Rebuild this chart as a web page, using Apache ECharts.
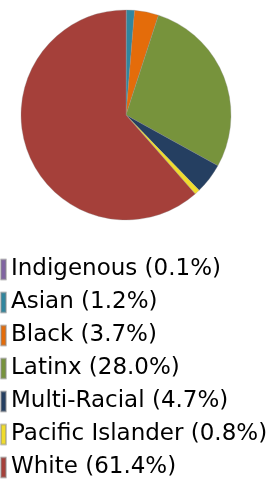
<!DOCTYPE html>
<html>
<head>
<meta charset="utf-8">
<script src="https://cdn.jsdelivr.net/npm/echarts@6/dist/echarts.min.js"></script>
<style>
  html, body { margin: 0; padding: 0; background: #fff; }
  #chart { width: 274px; height: 479px; }
</style>
</head>
<body>
<div id="chart"></div>
<script>
const groups = ['Indigenous', 'Asian', 'Black', 'Latinx', 'Multi-Racial', 'Pacific Islander', 'White']
const shares = [0.1, 1.2, 3.7, 28.0, 4.7, 0.8, 61.4]
const colors = ['#8064a2', '#31869e', '#e46c0a', '#77933c', '#253f61', '#f0dc2c', '#a5403a']

const chart = echarts.init(document.getElementById('chart'))

const pieData = groups.map((g, i) => ({
  name: g,
  value: shares[i],
  itemStyle: { color: colors[i] },
}))

chart.setOption({
  animation: false,
  legend: {
    orient: 'vertical',
    left: 0,
    top: 258,
    height: 240,
    padding: 0,
    itemWidth: 5,
    itemHeight: 20,
    itemGap: 10,
    icon: 'rect',
    textStyle: {
      fontFamily: 'DejaVu Sans',
      fontSize: 23,
      color: '#000',
    },
    formatter: (name) => {
      const i = groups.indexOf(name)
      return name + ' (' + shares[i].toFixed(1) + '%)'
    },
    data: groups,
  },
  series: [
    {
      type: 'pie',
      center: [126, 115],
      radius: 105,
      startAngle: 90,
      label: { show: false },
      labelLine: { show: false },
      itemStyle: {
        borderColor: 'rgba(140,140,140,0.5)',
        borderWidth: 0.6,
      },
      emphasis: { disabled: true },
      data: pieData,
    },
  ],
})
</script>
</body>
</html>
